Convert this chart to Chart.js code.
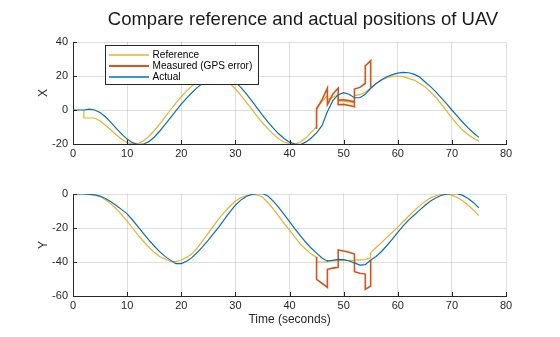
<!DOCTYPE html>
<html>
<head>
<meta charset="utf-8">
<script src="https://cdn.jsdelivr.net/npm/chart.js@4/dist/chart.umd.min.js"></script>
<style>
html,body{margin:0;padding:0;background:#fff;}
#wrap{position:relative;width:560px;height:337px;overflow:hidden;}
canvas{position:absolute;left:0;}
#c1{top:0;}
#c2{top:172px;}
</style>
</head>
<body>
<div id="wrap">
<canvas id="c1" width="560" height="172"></canvas>
<canvas id="c2" width="560" height="165"></canvas>
</div>
<script>
// ---------- data ----------
const titleText = 'Compare reference and actual positions of UAV';
const seriesLabels = ['Reference', 'Measured (GPS error)', 'Actual'];
const xTicksTime = [0, 10, 20, 30, 40, 50, 60, 70, 80];
const topYTicks = [-20, 0, 20, 40];
const bottomYTicks = [-60, -40, -20, 0];

// Actual (blue), sampled every second
const actT = [0,1,2,3,4,5,6,7,8,9,10,11,12,13,14,15,16,17,18,19,20,21,22,23,24,25,26,27,28,29,30,31,32,33,34,35,36,37,38,39,40,41,42,43,44,45,46,47,48,49,50,51,52,53,54,55,56,57,58,59,60,61,62,63,64,65,66,67,68,69,70,71,72,73,74,75];
const actX = [0,0,0,0.5,0,-1.5,-4,-7.3,-10.8,-14.2,-17.1,-19.2,-20.3,-20.1,-18.6,-16,-12.5,-8.6,-4.6,-0.5,3.5,7,10.3,13.3,15.9,18,19.6,20.3,20,18.7,16.4,13.3,9.6,5.5,1.2,-3,-7,-10.7,-14,-16.8,-18.9,-20.1,-20.3,-18.9,-16.5,-13.5,-9.2,-1,5.5,9,10.2,9.3,7.2,7.2,9.2,12.8,15.6,17.8,19.6,20.8,21.7,22.1,21.9,21.1,19.5,16.6,13.9,10.8,7.3,3.7,0,-3.6,-7.2,-10.5,-13.5,-16.1];
const actY = [0,0,0,-0.2,-0.5,-1.2,-2.6,-4.6,-6.8,-9.2,-11.7,-15.3,-19.2,-23.1,-27,-30.6,-33.9,-36.7,-38.9,-41,-40.9,-39.6,-37.3,-34.3,-30.8,-27.1,-23.2,-19.2,-14.8,-10.5,-6.6,-3.6,-1.5,-0.3,0.2,0.3,-1.2,-4.2,-7.9,-12,-16.3,-20.5,-24.5,-28.4,-31.8,-34.8,-37.6,-39.5,-39,-38.5,-38.6,-39.4,-40.5,-41.8,-41.6,-38.8,-36.8,-33.8,-30.3,-26.6,-22.6,-18.8,-15.4,-12.5,-9.6,-6.8,-4.3,-2.3,-0.9,-0.1,0.3,0.2,-0.8,-2.6,-5.1,-8.2];

// Reference (yellow), starts at t = 2
const refXT = [2,2,3,4,5,6,7,8,9,10,11,12,13,14,15,16,17,18,19,20,21,22,23,24,25,26,27,28,29,30,31,32,33,34,35,36,37,38,39,40,41,42,43,44,45,45,46,47,47,48,49,49,50,51,52,52,53,54,55,56,57,58,59,60,61,62,63,64,65,66,67,68,69,70,71,72,73,74,75];
const refX = [0,-4.7,-4.7,-4.7,-6.5,-9,-11.8,-14.6,-17.2,-19.2,-20.1,-19.8,-18.2,-15.6,-12.2,-8.3,-4.2,0,4,7.8,11.2,14.2,16.7,18.5,19.6,20,19.5,18,15.6,12.5,8.8,4.7,0.5,-3.6,-7.5,-11,-14.2,-16.9,-18.8,-19.9,-20,-18.8,-16.5,-13.2,-9.8,1.5,5,8.5,6,7.5,9,5.5,5.2,4.8,4.3,8.5,9,10.5,13,15.5,17.5,19,19.8,20,19.6,18.6,17.6,15.8,13.6,10.8,7.6,3.8,-0.5,-4.7,-8.5,-11.8,-14.5,-16.6,-18.3];
const refYT = [2,3,4,5,6,7,8,9,10,11,12,13,14,15,16,17,18,19,20,21,22,23,24,25,26,27,28,29,30,31,32,33,34,35,36,37,38,39,40,41,42,43,44,45,45,46,47,47,48,49,50,51,52,53,54,55,55,56,57,58,59,60,61,62,63,64,65,66,67,68,69,70,71,72,73,74,75];
const refY = [0,-0.2,-0.5,-1.5,-3.4,-5.8,-8.8,-12.2,-16,-20,-24,-27.8,-31.2,-34.3,-36.8,-38.2,-39.7,-39.8,-38.8,-37.3,-35.2,-31.5,-27.3,-23,-18.6,-14.4,-10.5,-7.2,-4.3,-2.2,-0.9,-0.3,-0.6,-1.8,-5,-8.8,-13,-17.3,-21.3,-25.3,-29.5,-32.5,-35.2,-37.3,-40,-40,-40,-39.3,-39.3,-39.2,-39.1,-39,-38.9,-38.7,-38.6,-37.5,-34.5,-31.5,-28.6,-25.4,-22.6,-19.5,-16.3,-13.1,-10,-7,-4.5,-2.4,-1,-0.2,0,-0.7,-2.1,-4,-6.6,-9.5,-12.7];

// Measured (orange), only during the GPS error window (null = break)
const measXT = [45,45,46,47,47,48,49,49,50,51,52,52,53,54,54,55,55,55,49,50,51,52];
const measX = [-11.2,0.6,6,12.9,3.1,9.3,12.9,3.1,3.3,2.7,1.9,12.3,13.3,15.6,26,29,13.3,null,5.8,6,5.5,4.8];
const measYT = [45,45,46,47,47,48,49,49,50,51,52,52,53,54,54,55,55];
const measY = [-37,-50.2,-52.5,-54.9,-44.3,-43.6,-43.1,-32.9,-33.5,-34.3,-35.3,-45.7,-46.6,-47.1,-56.1,-54.1,-38.8];

// ---------- helpers ----------
const zip = (ts, vs) => ts.map((t, i) => ({x: t, y: vs[i]}));
const COL_REF = '#EDB120', COL_MEAS = '#D95319', COL_ACT = '#0072BD';
const AX = '#262626', GRID = 'rgba(38,38,38,0.15)';
const FONT = "'Liberation Sans', Arial, sans-serif";
Chart.defaults.font.family = FONT;
Chart.defaults.color = AX;

function datasets(refT, refV, mT, mV, aT, aV) {
  return [
    {label: seriesLabels[0], data: zip(refT, refV), borderColor: COL_REF, borderWidth: 1.2, pointRadius: 0, order: 3, spanGaps: false},
    {label: seriesLabels[1], data: zip(mT, mV), borderColor: COL_MEAS, borderWidth: 1.6, pointRadius: 0, order: 2, spanGaps: false},
    {label: seriesLabels[2], data: zip(aT, aV), borderColor: COL_ACT, borderWidth: 1.2, pointRadius: 0, order: 1, spanGaps: false}
  ];
}

const inwardTicks = {
  id: 'inwardTicks',
  afterDraw(chart) {
    const ctx = chart.ctx, xs = chart.scales.x, ys = chart.scales.y, a = chart.chartArea;
    ctx.save();
    ctx.strokeStyle = AX; ctx.lineWidth = 1;
    ctx.beginPath();
    xs.ticks.forEach(t => { const p = Math.round(xs.getPixelForValue(t.value)) + 0.5; ctx.moveTo(p, a.bottom); ctx.lineTo(p, a.bottom - 4); });
    ys.ticks.forEach(t => { const p = Math.round(ys.getPixelForValue(t.value)) + 0.5; ctx.moveTo(a.left, p); ctx.lineTo(a.left + 4, p); });
    ctx.stroke();
    ctx.restore();
  }
};

const boxLegend = {
  id: 'boxLegend',
  afterDraw(chart, args, opts) {
    if (!opts.show) return;
    const ctx = chart.ctx;
    ctx.save();
    ctx.fillStyle = '#fff';
    ctx.fillRect(105.5, 45.5, 153, 39);
    ctx.strokeStyle = '#262626'; ctx.lineWidth = 1;
    ctx.strokeRect(105.5, 45.5, 153, 39);
    const widths = [1.5, 2.2, 1.5];
    chart.data.datasets.forEach((ds, i) => {
      const cy = 55 + i * 11;
      ctx.strokeStyle = ds.borderColor; ctx.lineWidth = widths[i];
      ctx.beginPath(); ctx.moveTo(109, cy); ctx.lineTo(149, cy); ctx.stroke();
      ctx.fillStyle = '#000';
      ctx.font = '10.1px ' + FONT;
      ctx.textBaseline = 'middle'; ctx.textAlign = 'left';
      ctx.fillText(ds.label, 152.5, cy + 0.5);
    });
    ctx.restore();
  }
};

const mainTitle = {
  id: 'mainTitle',
  afterDraw(chart, args, opts) {
    if (!opts.text) return;
    const ctx = chart.ctx;
    ctx.save();
    ctx.fillStyle = '#1a1a1a';
    ctx.font = '18.5px ' + FONT;
    ctx.textAlign = 'center'; ctx.textBaseline = 'middle';
    ctx.fillText(opts.text, 303, 20);
    ctx.restore();
  }
};

function makeChart(id, ds, yMin, yMax, yTitle, xTitle, padTop, padBottom, xHeight, extra) {
  return new Chart(document.getElementById(id), {
    type: 'line',
    data: {datasets: ds},
    options: {
      responsive: false, animation: false, events: [],
      layout: {padding: {left: 0, right: 54, top: padTop, bottom: padBottom}},
      elements: {line: {tension: 0}},
      scales: {
        x: {
          type: 'linear', min: xTicksTime[0], max: xTicksTime[xTicksTime.length - 1],
          afterBuildTicks: s => { s.ticks = xTicksTime.map(v => ({value: v})); },
          ticks: {font: {size: 11}, color: AX, padding: 3, maxRotation: 0},
          grid: {color: GRID, lineWidth: 1, drawTicks: false},
          border: {color: AX, width: 1},
          title: xTitle ? {display: true, text: xTitle, font: {size: 12}, color: AX, padding: {top: 0, bottom: 9.8}} : {display: false},
          afterFit: s => { s.height = xHeight; }
        },
        y: {
          type: 'linear', min: yMin, max: yMax,
          afterBuildTicks: s => { s.ticks = extra.yTicks.map(v => ({value: v})); },
          ticks: {font: {size: 11}, color: AX, padding: 5},
          grid: {color: GRID, lineWidth: 1, drawTicks: false},
          border: {color: AX, width: 1},
          title: {display: true, text: yTitle, font: {size: 12}, color: AX, padding: {top: 36, bottom: 0}},
          afterFit: s => { s.width = 73; }
        }
      },
      plugins: {
        legend: {display: false}, tooltip: {enabled: false},
        boxLegend: {show: extra.legend},
        mainTitle: {text: extra.title}
      }
    },
    plugins: [inwardTicks, boxLegend, mainTitle]
  });
}

makeChart('c1', datasets(refXT, refX, measXT, measX, actT, actX), -20, 40, 'X', null, 42, 8, 20,
  {legend: true, title: titleText, yTicks: topYTicks});
makeChart('c2', datasets(refYT, refY, measYT, measY, actT, actY), -60, 0, 'Y', 'Time (seconds)', 22, 0, 41,
  {legend: false, title: null, yTicks: bottomYTicks});
</script>
</body>
</html>
